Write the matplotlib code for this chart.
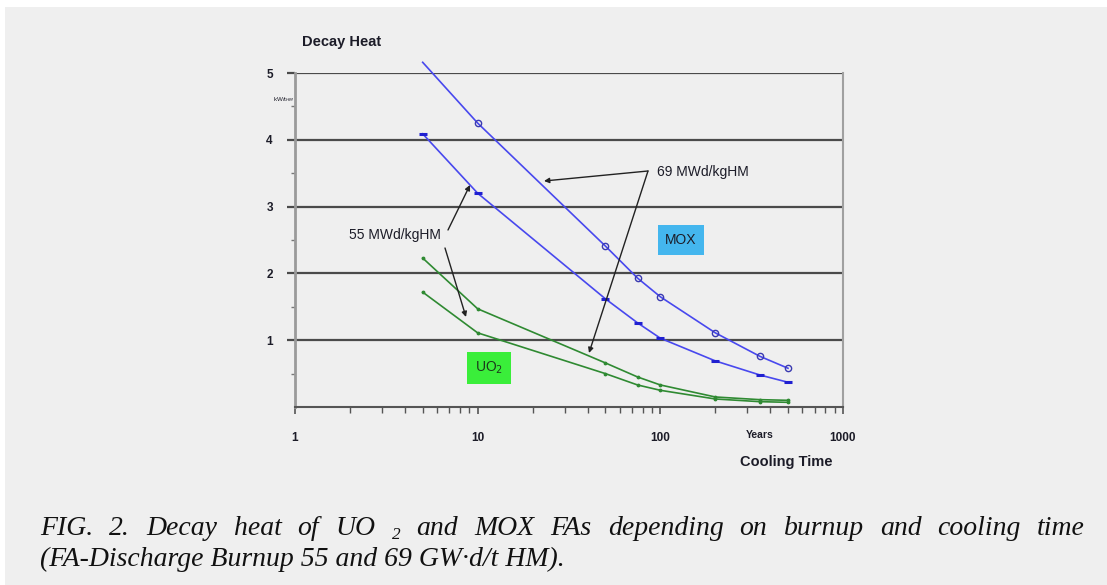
import matplotlib
matplotlib.use("Agg")
import matplotlib.pyplot as plt
from matplotlib.patches import Rectangle
import numpy as np

# ---------------- data ----------------
years = [5, 10, 50, 75, 100, 200, 350, 500]
mox_69 = [5.16, 4.25, 2.41, 1.93, 1.65, 1.11, 0.76, 0.58]
mox_55 = [4.09, 3.20, 1.62, 1.26, 1.03, 0.69, 0.48, 0.37]
uo2_69 = [2.23, 1.47, 0.66, 0.45, 0.33, 0.15, 0.11, 0.10]
uo2_55 = [1.72, 1.11, 0.50, 0.33, 0.25, 0.12, 0.08, 0.07]
x_ticks = [1, 10, 100, 1000]
x_ticklabels = ["1", "10", "100", "1000"]
y_ticks = [1, 2, 3, 4, 5]
caption_line1 = "FIG. 2. Decay heat of UO| 2| and MOX FAs depending on burnup and cooling time"
caption_line2 = "(FA-Discharge Burnup 55 and 69 GW·d/t HM)."

W, H = 1107, 585
fig = plt.figure(figsize=(W / 100, H / 100), dpi=100)
fig.patch.set_facecolor("white")
# light gray page area (white strip at top/left)
fig.patches.append(Rectangle((5 / W, 0), 1, 1 - 7 / H, transform=fig.transFigure,
                             facecolor="#efefef", edgecolor="none", zorder=-10))

def fx(px):
    return px / W

def fy(py):
    return 1 - py / H

ax = fig.add_axes([fx(295), fy(407), fx(843) - fx(295), fy(73) - fy(407)])
ax.set_zorder(2)
ax.set_facecolor("#efefef")
ax.set_xscale("log")
ax.set_xlim(1, 1000)
ax.set_ylim(0, 5)

txt = "#1c1c28"
sans = ["Liberation Sans", "DejaVu Sans"]

# gridlines
for y in y_ticks:
    ax.axhline(y, color="#4a4a4a", lw=1.6, zorder=1)

blue = "#4848ee"
green = "#2f8a32"
ax.plot(years, mox_69, color=blue, lw=1.2, marker="o", ms=4.5, mfc="none",
        mec="#3a3ab0", mew=1.0, markevery=list(range(1, len(years))),
        clip_on=False, zorder=3)
ax.plot(years, mox_55, color=blue, lw=1.2, marker="_", ms=6, mew=2.2,
        mec="#2020d0", clip_on=False, zorder=3)
ax.plot(years, uo2_69, color=green, lw=1.2, marker=".", ms=3.5, clip_on=False, zorder=3)
ax.plot(years, uo2_55, color=green, lw=1.2, marker=".", ms=3.5, clip_on=False, zorder=3)

# spines
ax.spines["top"].set_visible(False)
ax.spines["left"].set_color("#9a9a9a")
ax.spines["left"].set_linewidth(2.0)
ax.spines["right"].set_color("#a0a0a0")
ax.spines["right"].set_linewidth(1.5)
ax.spines["bottom"].set_color("#555555")
ax.spines["bottom"].set_linewidth(1.5)

ax.set_xticks(x_ticks)
ax.set_xticklabels(x_ticklabels, fontsize=8.5, fontweight="bold", color=txt, family=sans)
ax.set_yticks(y_ticks)
ax.set_yticklabels([str(v) for v in y_ticks], fontsize=8.5, fontweight="bold", color=txt, family=sans)
ax.set_yticks(np.arange(0.5, 5, 1.0), minor=True)
ax.tick_params(axis="x", which="major", direction="out", length=5, width=1.2,
               color="#555555", pad=13)
ax.tick_params(axis="x", which="minor", direction="out", length=4, width=1.0, color="#555555")
ax.tick_params(axis="y", which="major", direction="out", length=6, width=1.6,
               color="#4a4a4a", pad=10)
ax.tick_params(axis="y", which="minor", direction="out", length=3, width=1.0, color="#777777")

# labels
fig.text(fx(302), fy(42), "Decay Heat", fontsize=10.5, fontweight="bold", color=txt,
         family=sans, va="center", ha="left")
fig.text(fx(284), fy(100), "kW/t$_{HM}$", fontsize=4.5, color=txt, family=sans,
         va="center", ha="center")
fig.text(fx(786), fy(462), "Cooling Time", fontsize=10.5, fontweight="bold", color=txt,
         family=sans, va="center", ha="center")
fig.text(fx(760), fy(435), "Years", fontsize=7.5, fontweight="bold", color=txt,
         family=sans, va="center", ha="center")

# annotations
fig.text(fx(657), fy(172), "69 MWd/kgHM", fontsize=10, color=txt, family=sans,
         va="center", ha="left")
fig.text(fx(395), fy(235), "55 MWd/kgHM", fontsize=10, color=txt, family=sans,
         va="center", ha="center")

def arrow(p0, p1):
    fig.add_artist(matplotlib.patches.FancyArrowPatch(
        (fx(p0[0]), fy(p0[1])), (fx(p1[0]), fy(p1[1])), transform=fig.transFigure,
        arrowstyle="-|>,head_length=3,head_width=1.5", color="#222222", lw=1.0,
        shrinkA=0, shrinkB=0, zorder=5))

arrow((648, 171), (544, 181))
arrow((648, 171), (589, 353))
arrow((448, 230), (470, 185))
arrow((445, 248), (466, 317))

# boxes
fig.text(fx(681), fy(240), "MOX", fontsize=10, color=txt, family=sans, va="center",
         ha="center", zorder=5,
         bbox=dict(boxstyle="square,pad=0.55", fc="#44b6ee", ec="none"))
fig.text(fx(489), fy(368), "UO$_2$", fontsize=10, color="#1c3a1c", family=sans, va="center",
         ha="center", zorder=5,
         bbox=dict(boxstyle="square,pad=0.55", fc="#3aee3a", ec="none"))

# caption (justified first line)
serif = ["Liberation Serif", "DejaVu Serif"]
cap_fs = 20
cap_col = "#111111"
fig.canvas.draw()
renderer = fig.canvas.get_renderer()

def width_of(s, fs):
    t = fig.text(0, 0, s, fontsize=fs, family=serif, style="italic")
    bb = t.get_window_extent(renderer)
    t.remove()
    return bb.width

words = caption_line1.split(" ")
pieces = []
for w in words:
    if w.endswith("|"):
        pieces.append(("sub" if w[:-1].isdigit() else "norm", w[:-1]))
    else:
        pieces.append(("norm", w))
sizes = []
for kind, w in pieces:
    fs = cap_fs * 0.62 if kind == "sub" else cap_fs
    sizes.append(width_of(w, fs))
x_left, x_right = 40, 1085
total = sum(sizes)
gap = (x_right - x_left - total) / (len(pieces) - 1)
x = x_left
for (kind, w), wd in zip(pieces, sizes):
    if kind == "sub":
        fig.text(fx(x), fy(539), w, fontsize=cap_fs * 0.62, family=serif, style="italic",
                 color=cap_col, va="baseline", ha="left")
    else:
        fig.text(fx(x), fy(535), w, fontsize=cap_fs, family=serif, style="italic",
                 color=cap_col, va="baseline", ha="left")
    x += wd + gap

fig.text(fx(40), fy(566), caption_line2, fontsize=cap_fs, family=serif, style="italic",
         color=cap_col, va="baseline", ha="left")

fig.savefig("out.png", dpi=100, facecolor=fig.get_facecolor())
